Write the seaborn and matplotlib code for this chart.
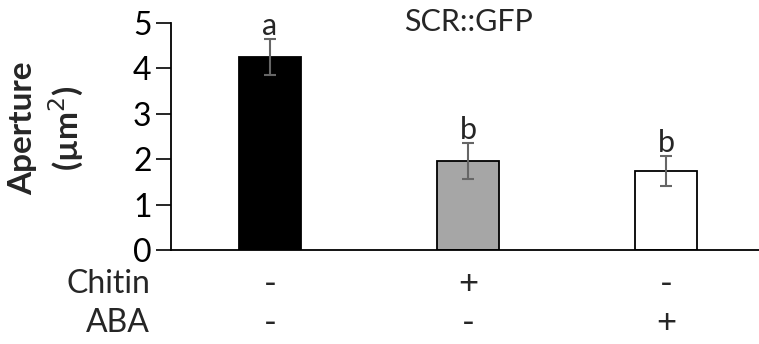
import matplotlib
matplotlib.use("Agg")
import matplotlib.pyplot as plt
import matplotlib.transforms as mtransforms
import seaborn as sns
import pandas as pd

groups = ["g1", "g2", "g3"]
values = [4.25, 1.96, 1.74]
errors = [0.40, 0.40, 0.32]
letters = ["a", "b", "b"]
colors = ["#000000", "#a6a6a6", "#ffffff"]
chitin = ["-", "+", "-"]
aba = ["-", "-", "+"]
row_names = ["Chitin", "ABA"]
title = "SCR::GFP"
yticks = [0, 1, 2, 3, 4, 5]

sns.set_style("white")
plt.rcParams["font.family"] = ["Lato", "DejaVu Sans"]

fig = plt.figure(figsize=(7.59, 3.44), dpi=100)
ax = fig.add_axes([171/759, 94/344, 594/759, 227/344])

df = pd.DataFrame({"group": groups, "value": values})
sns.barplot(data=df, x="group", y="value", hue="group", palette=colors,
            order=groups, hue_order=groups, width=0.31, edgecolor="black",
            linewidth=1.3, legend=False, errorbar=None, ax=ax)
ax.errorbar(range(len(groups)), values, yerr=errors, fmt="none",
            ecolor="#666666", elinewidth=1.5, capsize=4, capthick=1.5, zorder=5)

for i, (v, e, l) in enumerate(zip(values, errors, letters)):
    ax.text(i, v + e - 0.02, l, ha="center", va="bottom", fontsize=22)

ax.set_xlim(-0.5, 2.5)
ax.set_ylim(0, 5)
ax.set_yticks(yticks)
ax.tick_params(axis="y", labelsize=23, length=11, width=1.2, direction="out",
               left=True, pad=3, colors="black")
ax.set_xticks([])
ax.set_xlabel("")
ax.set_ylabel("")
for s in ["top", "right"]:
    ax.spines[s].set_visible(False)
for s in ["left", "bottom"]:
    ax.spines[s].set_color("black")
    ax.spines[s].set_linewidth(1.3)

ax.text(0.5, 1.005, title, transform=ax.transAxes, ha="center", va="center",
        fontsize=22)

trans = mtransforms.blended_transform_factory(ax.transData, ax.transAxes)
rows_y = [-0.15, -0.32]
for i in range(len(groups)):
    ax.text(i, rows_y[0], chitin[i], transform=trans, ha="center", va="center", fontsize=25)
    ax.text(i, rows_y[1], aba[i], transform=trans, ha="center", va="center", fontsize=25)
for name, yy in zip(row_names, rows_y):
    fig.text(150/759, (344 - (250 - yy*227)) / 344, name, ha="right", va="center", fontsize=23)

fig.text(23/759, (344-128)/344, "Aperture", rotation=90, ha="center", va="center",
         fontsize=24, fontweight="bold")
fig.text(66/759, (344-128)/344, "(µm$^{2}$)", rotation=90, ha="center", va="center",
         fontsize=24, fontweight="bold")

fig.savefig("out.png", dpi=100)
